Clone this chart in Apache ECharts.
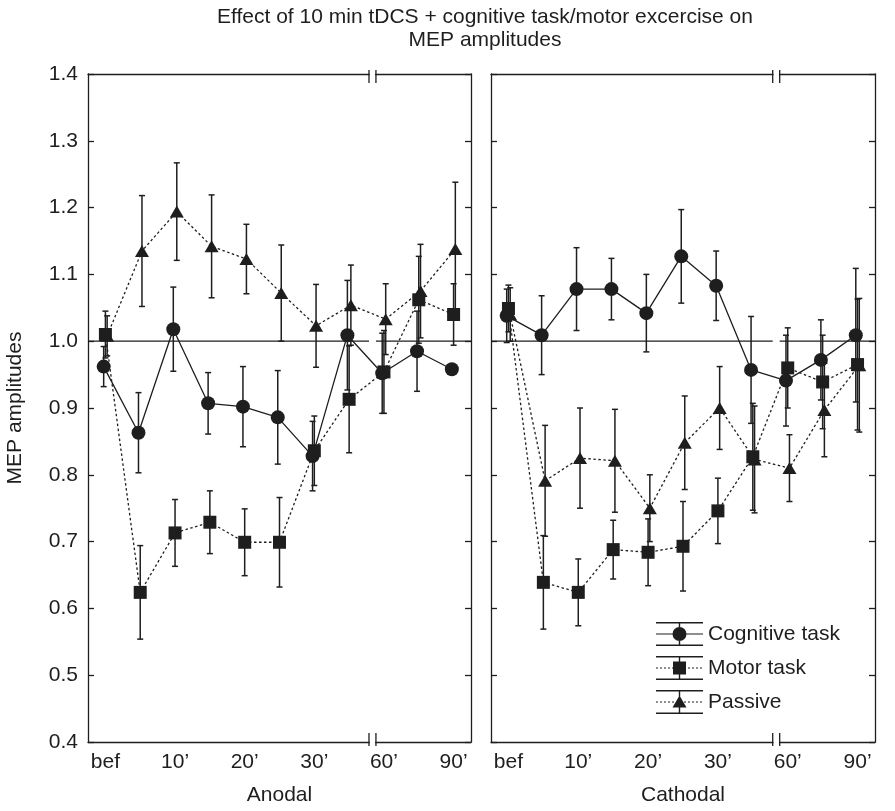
<!DOCTYPE html>
<html><head><meta charset="utf-8">
<script src="https://cdn.jsdelivr.net/npm/echarts@6/dist/echarts.min.js"></script>
<style>html,body{margin:0;padding:0;background:#fff}#c{width:895px;height:811px}</style>
</head><body><div id="c"></div>
<script>
// ---------- data ----------
const timeCats = ["bef", "5\u2019", "10\u2019", "15\u2019", "20\u2019", "25\u2019", "30\u2019", "35\u2019", "60\u2019", "75\u2019", "90\u2019"];
const panelNames = ["Anodal", "Cathodal"];
const seriesNames = ["Cognitive task", "Motor task", "Passive"];

// Anodal
const cogA    = [0.962, 0.863, 1.018, 0.907, 0.902, 0.886, 0.828, 1.009, 0.952, 0.985, 0.958];
const cogAErr = [0.030, 0.060, 0.063, 0.046, 0.060, 0.070, 0.052, 0.082, 0.060, 0.060, 0.000];
const motA    = [1.010, 0.624, 0.713, 0.729, 0.699, 0.699, 0.836, 0.913, 0.954, 1.062, 1.040];
const motAErr = [0.035, 0.070, 0.050, 0.047, 0.050, 0.067, 0.052, 0.080, 0.062, 0.065, 0.046];
const pasA    = [1.008, 1.135, 1.194, 1.142, 1.123, 1.072, 1.023, 1.054, 1.033, 1.075, 1.138];
const pasAErr = [0.030, 0.083, 0.073, 0.077, 0.052, 0.072, 0.062, 0.060, 0.053, 0.070, 0.100];

// Cathodal
const cogC    = [1.038, 1.009, 1.078, 1.078, 1.042, 1.127, 1.083, 0.957, 0.941, 0.972, 1.009];
const cogCErr = [0.040, 0.059, 0.062, 0.046, 0.058, 0.070, 0.052, 0.080, 0.068, 0.060, 0.100];
const motC    = [1.049, 0.639, 0.624, 0.688, 0.684, 0.693, 0.746, 0.827, 0.960, 0.939, 0.965];
const motCErr = [0.035, 0.070, 0.050, 0.044, 0.050, 0.067, 0.049, 0.080, 0.060, 0.070, 0.098];
const pasC    = [1.040, 0.791, 0.825, 0.821, 0.750, 0.848, 0.900, 0.823, 0.810, 0.897, 0.964];
const pasCErr = [0.040, 0.083, 0.075, 0.077, 0.050, 0.070, 0.062, 0.080, 0.050, 0.070, 0.100];

const yMin = 0.4, yMax = 1.4, yStep = 0.1;
const refValue = 1.0;
const breakAt = [7.57, 7.77];

// ---------- styling ----------
const FONT = "'Liberation Sans', Arial, Helvetica, sans-serif";
const INK = '#1e1e1e';
const FS = 21;

const grids = [
  {left: 88, top: 74, width: 383, height: 668},
  {left: 491, top: 74, width: 384, height: 668}
];

const groups = [
  {vals: [cogA, cogC], errs: [cogAErr, cogCErr], symbol: 'circle', size: 14, dashed: false, off: -0.05},
  {vals: [motA, motC], errs: [motAErr, motCErr], symbol: 'rect', size: 13, dashed: true, off: 0},
  {vals: [pasA, pasC], errs: [pasAErr, pasCErr], symbol: 'triangle', size: [14, 12], dashed: true, off: 0.05}
];
const drawOrder = [2, 0, 1]; // passive underneath, motor on top

function renderErr(params, api) {
  const x = api.value(0), lo = api.value(1), hi = api.value(2);
  if (hi - lo <= 0) return null;
  const p1 = api.coord([x, hi]), p2 = api.coord([x, lo]);
  const w = 3;
  const st = {stroke: INK, lineWidth: 1.5, fill: null};
  return {type: 'group', children: [
    {type: 'line', shape: {x1: p1[0], y1: p1[1], x2: p2[0], y2: p2[1]}, style: st},
    {type: 'line', shape: {x1: p1[0] - w, y1: p1[1], x2: p1[0] + w, y2: p1[1]}, style: st},
    {type: 'line', shape: {x1: p2[0] - w, y1: p2[1], x2: p2[0] + w, y2: p2[1]}, style: st}
  ]};
}

function renderDecor(params, api) {
  const ch = [];
  const s = {stroke: INK, lineWidth: 1.3};
  const a = api.coord([-0.5, refValue]), b = api.coord([breakAt[0], refValue]);
  const c = api.coord([breakAt[1], refValue]), d = api.coord([10.5, refValue]);
  ch.push({type: 'line', shape: {x1: a[0], y1: a[1], x2: b[0], y2: b[1]}, style: s});
  ch.push({type: 'line', shape: {x1: c[0], y1: c[1], x2: d[0], y2: d[1]}, style: s});
  [[yMax, 1], [yMin, -1]].forEach(function (e) {
    const p = api.coord([breakAt[0], e[0]]), q = api.coord([breakAt[1], e[0]]);
    ch.push({type: 'rect', shape: {x: p[0] + 0.8, y: p[1] - 2, width: q[0] - p[0] - 1.6, height: 4}, style: {fill: '#fff'}});
    const y1 = p[1] - 4 * e[1], y2 = p[1] + 9 * e[1];
    ch.push({type: 'line', shape: {x1: p[0], y1: y1, x2: p[0], y2: y2}, style: s});
    ch.push({type: 'line', shape: {x1: q[0], y1: y1, x2: q[0], y2: y2}, style: s});
  });
  return {type: 'group', children: ch};
}

// legend icons (47 x 24 box)
function rect(x, y, w, h) { return 'M' + x + ' ' + y + 'H' + (x + w) + 'V' + (y + h) + 'H' + x + 'Z'; }
const frame = rect(0, 0, 47, 1.4) + rect(0, 22.6, 47, 1.4) + rect(22.8, 0, 1.4, 24);
let dots = '';
for (let x = 0; x < 47; x += 4) dots += rect(x, 11.4, Math.min(2, 47 - x), 1.2);
const iconCog = 'path://' + frame + rect(0, 11.4, 47, 1.2) + 'M16.5 12A7 7 0 1 1 30.5 12A7 7 0 1 1 16.5 12Z';
const iconMot = 'path://' + frame + dots + rect(17, 5.5, 13, 13);
const iconPas = 'path://' + frame + dots + 'M23.5 5.5L30.5 17.5H16.5Z';
const icons = [iconCog, iconMot, iconPas];

const xAxis = [], yAxis = [], series = [];
grids.forEach(function (g, p) {
  const base = p * 3;
  xAxis.push({
    type: 'category', gridIndex: p, position: 'bottom', data: timeCats, boundaryGap: true,
    axisLine: {onZero: false, lineStyle: {color: INK, width: 1.3}},
    axisTick: {inside: true, alignWithLabel: true, interval: 0, length: 6, lineStyle: {color: INK, width: 1.3}},
    axisLabel: {interval: 1, margin: 10, fontSize: FS, color: INK, fontFamily: FONT},
    name: panelNames[p], nameLocation: 'middle', nameGap: 43,
    nameTextStyle: {fontSize: FS, color: INK, fontFamily: FONT},
    splitLine: {show: false}
  });
  xAxis.push({
    type: 'category', gridIndex: p, position: 'top', data: timeCats, boundaryGap: true,
    axisLine: {onZero: false, lineStyle: {color: INK, width: 1.3}},
    axisTick: {inside: true, alignWithLabel: true, interval: 0, length: 6, lineStyle: {color: INK, width: 1.3}},
    axisLabel: {show: false}, splitLine: {show: false}
  });
  xAxis.push({type: 'value', gridIndex: p, min: -0.5, max: 10.5, show: false, axisLine: {onZero: false}});
  const yCommon = {
    type: 'value', gridIndex: p, min: yMin, max: yMax, interval: yStep,
    axisLine: {show: true, onZero: false, lineStyle: {color: INK, width: 1.3}},
    axisTick: {show: true, inside: true, length: 6, lineStyle: {color: INK, width: 1.3}},
    splitLine: {show: false}
  };
  yAxis.push(Object.assign({}, yCommon, {
    position: 'left',
    axisLabel: {show: p === 0, margin: 10, fontSize: FS, color: INK, fontFamily: FONT,
      formatter: function (v) { return v.toFixed(1); }},
    name: p === 0 ? 'MEP amplitudes' : '', nameLocation: 'middle', nameGap: 62,
    nameTextStyle: {fontSize: FS, color: INK, fontFamily: FONT}
  }));
  yAxis.push(Object.assign({}, yCommon, {position: 'right', axisLabel: {show: false}}));

  const xi = base + 2, yi = p * 2;
  series.push({type: 'custom', xAxisIndex: xi, yAxisIndex: yi, data: [[0, refValue]],
    renderItem: renderDecor, z: 5, clip: false, silent: true, animation: false});
  groups.forEach(function (gr, k) {
    const vals = gr.vals[p], errs = gr.errs[p];
    series.push({
      type: 'custom', name: seriesNames[k] + ' SEM', xAxisIndex: xi, yAxisIndex: yi,
      data: vals.map(function (v, i) { return [i + gr.off, v - errs[i], v + errs[i]]; }),
      renderItem: renderErr, z: 3, clip: false, silent: true, animation: false
    });
  });
  drawOrder.forEach(function (k) {
    const gr = groups[k];
    const vals = gr.vals[p];
    series.push({
      type: 'line', name: seriesNames[k], xAxisIndex: xi, yAxisIndex: yi,
      data: vals.map(function (v, i) { return [i + gr.off, v]; }),
      symbol: gr.symbol, symbolSize: gr.size, showSymbol: true,
      lineStyle: {color: INK, width: 1.3, type: gr.dashed ? [2.5, 2.5] : 'solid'},
      itemStyle: {color: INK}, z: 4, silent: true, animation: false
    });
  });
});

const chart = echarts.init(document.getElementById('c'));
chart.setOption({
  animation: false,
  backgroundColor: '#fff',
  title: {
    text: 'Effect of 10 min tDCS + cognitive task/motor excercise on\nMEP amplitudes',
    left: 485, top: 6, padding: 0, textAlign: 'center',
    textStyle: {fontSize: FS, fontWeight: 'normal', color: INK, fontFamily: FONT, lineHeight: 23}
  },
  legend: {
    orient: 'vertical', left: 656, top: 622, padding: 0,
    itemWidth: 47, itemHeight: 24, itemGap: 10, selectedMode: false,
    itemStyle: {borderWidth: 0},
    textStyle: {fontSize: FS, color: INK, fontFamily: FONT},
    data: seriesNames.map(function (n, k) { return {name: n, icon: icons[k]}; })
  },
  grid: grids,
  xAxis: xAxis,
  yAxis: yAxis,
  series: series
});
</script>
</body></html>
